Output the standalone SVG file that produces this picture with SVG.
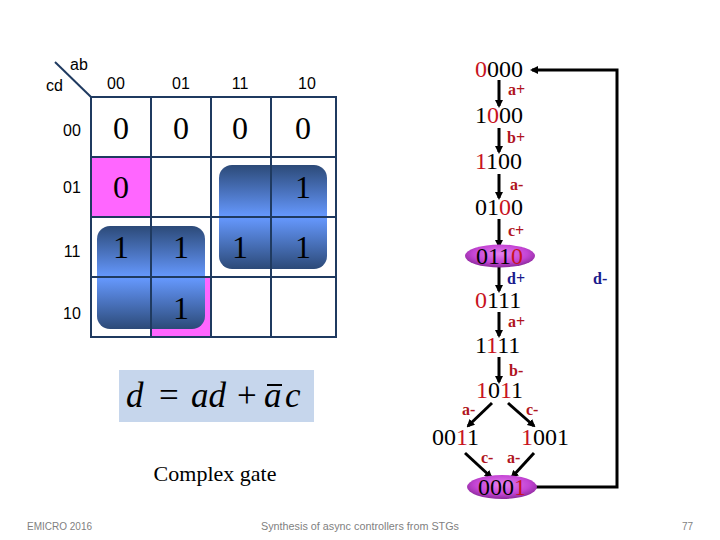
<svg xmlns="http://www.w3.org/2000/svg" width="720" height="540" viewBox="0 0 720 540">
<style>
.hdr{font-family:"Liberation Sans",Arial,sans-serif;font-size:16px;fill:#000}
.num{font-family:"Liberation Serif","Times New Roman",serif;font-size:32px;fill:#000;text-anchor:middle}
.grid{stroke:#1F3A60;stroke-width:2;fill:none}
.st{font-family:"Liberation Serif","Times New Roman",serif;font-size:24px;fill:#000}
.r{fill:#C8141E}
.lbl{font-family:"Liberation Serif","Times New Roman",serif;font-size:16px;font-weight:bold;fill:#B0141E}
.lblb{font-family:"Liberation Serif","Times New Roman",serif;font-size:16px;font-weight:bold;fill:#1A1A8C}
.arr{stroke:#000;stroke-width:3;fill:none}
.foot{font-family:"Liberation Sans",Arial,sans-serif;font-size:10px;fill:#7F7F7F}
</style>
<defs>
<linearGradient id="blue" x1="0" y1="0" x2="0" y2="1">
<stop offset="0" stop-color="#2C4A78"/>
<stop offset="0.5" stop-color="#6699FF"/>
<stop offset="1" stop-color="#2C4A78"/>
</linearGradient>
<radialGradient id="purp" cx="50%" cy="40%" r="60%">
<stop offset="0" stop-color="#E680F0"/>
<stop offset="0.65" stop-color="#C444D4"/>
<stop offset="1" stop-color="#8A2A9A"/>
</radialGradient>
<marker id="ah" markerWidth="8" markerHeight="8" refX="6" refY="4" orient="auto" markerUnits="userSpaceOnUse">
<path d="M0,0 L8,4 L0,8 Z" fill="#000"/>
</marker>
</defs>
<rect width="720" height="540" fill="#fff"/>

<g id="kmap">
<rect x="91" y="157" width="60" height="60" fill="#FF66FF"/>
<rect x="151" y="277" width="60" height="60" fill="#FF66FF"/>
<rect x="97" y="226" width="108" height="103" rx="13" fill="url(#blue)"/>
<rect x="219" y="165" width="108" height="104" rx="13" fill="url(#blue)"/>
<rect class="grid" x="91" y="97" width="245" height="240"/>
<path class="grid" d="M151,97V337M211,97V337M271,97V337M91,157H336M91,217H336M91,277H336"/>
<line class="grid" x1="55" y1="62" x2="91" y2="97"/>
<text class="hdr" x="70" y="70">ab</text>
<text class="hdr" x="46" y="91">cd</text>
<text class="hdr" x="116" y="89" text-anchor="middle">00</text>
<text class="hdr" x="181" y="89" text-anchor="middle">01</text>
<text class="hdr" x="240" y="89" text-anchor="middle">11</text>
<text class="hdr" x="307" y="89" text-anchor="middle">10</text>
<text class="hdr" x="72" y="136" text-anchor="middle">00</text>
<text class="hdr" x="72" y="193" text-anchor="middle">01</text>
<text class="hdr" x="72" y="257" text-anchor="middle">11</text>
<text class="hdr" x="72" y="319" text-anchor="middle">10</text>
<text class="num" x="121" y="139">0</text>
<text class="num" x="181" y="139">0</text>
<text class="num" x="240" y="139">0</text>
<text class="num" x="303" y="139">0</text>
<text class="num" x="121" y="198">0</text>
<text class="num" x="303" y="198">1</text>
<text class="num" x="121" y="258">1</text>
<text class="num" x="181" y="258">1</text>
<text class="num" x="240" y="258">1</text>
<text class="num" x="303" y="258">1</text>
<text class="num" x="181" y="319">1</text>
</g>

<g id="formula">
<rect x="119" y="370" width="195" height="52" fill="#C6D6EC"/>
<g font-family="'Liberation Serif','Times New Roman',serif" font-size="35" fill="#000">
<text x="126" y="407" font-style="italic">d</text>
<text x="159" y="407">=</text>
<text x="191" y="407" font-style="italic">ad</text>
<text x="237" y="407">+</text>
<text x="264" y="407" font-style="italic">a</text>
<text x="285" y="407" font-style="italic">c</text>
</g>
<line x1="267" y1="385" x2="282" y2="385" stroke="#000" stroke-width="2"/>
</g>
<text id="caption" x="215" y="481" text-anchor="middle" font-family="'Liberation Serif','Times New Roman',serif" font-size="22" fill="#000">Complex gate</text>

<g id="connectors">
<line class="arr" x1="499" y1="80" x2="499" y2="106" marker-end="url(#ah)"/>
<line class="arr" x1="499" y1="128" x2="499" y2="152" marker-end="url(#ah)"/>
<line class="arr" x1="499" y1="174" x2="499" y2="198" marker-end="url(#ah)"/>
<line class="arr" x1="499" y1="219" x2="499" y2="246" marker-end="url(#ah)"/>
<line class="arr" x1="499" y1="267" x2="499" y2="291" marker-end="url(#ah)"/>
<line class="arr" x1="499" y1="312" x2="499" y2="336" marker-end="url(#ah)"/>
<line class="arr" x1="499" y1="357" x2="499" y2="382" marker-end="url(#ah)"/>
<line class="arr" x1="492" y1="403" x2="468" y2="426" marker-end="url(#ah)"/>
<line class="arr" x1="508" y1="403" x2="534" y2="426" marker-end="url(#ah)"/>
<line class="arr" x1="465" y1="453" x2="491" y2="477" marker-end="url(#ah)"/>
<line class="arr" x1="534" y1="453" x2="512" y2="477" marker-end="url(#ah)"/>
<polyline class="arr" points="536,487 617,487 617,70 532,70" marker-end="url(#ah)"/>
<text class="lbl" x="508" y="95">a+</text>
<text class="lbl" x="507" y="143">b+</text>
<text class="lbl" x="510" y="190">a-</text>
<text class="lbl" x="508" y="236">c+</text>
<text class="lblb" x="507" y="284">d+</text>
<text class="lblb" x="593" y="284">d-</text>
<text class="lbl" x="508" y="327">a+</text>
<text class="lbl" x="509" y="376">b-</text>
<text class="lbl" x="462" y="415">a-</text>
<text class="lbl" x="526" y="415">c-</text>
<text class="lbl" x="481" y="463">c-</text>
<text class="lbl" x="507" y="463">a-</text>
</g>

<g id="s0000"><text class="st" x="475" y="77"><tspan class="r">0</tspan>000</text></g>
<g id="s1000"><text class="st" x="475" y="123">1<tspan class="r">0</tspan>00</text></g>
<g id="s1100"><text class="st" x="475" y="169"><tspan class="r">1</tspan>100</text></g>
<g id="s0100"><text class="st" x="475" y="215">01<tspan class="r">0</tspan>0</text></g>
<g id="s0110"><ellipse cx="500" cy="256" rx="35" ry="11.5" fill="url(#purp)"/><text class="st" x="476" y="264">011<tspan class="r">0</tspan></text></g>
<g id="s0111"><text class="st" x="475" y="308"><tspan class="r">0</tspan>111</text></g>
<g id="s1111"><text class="st" x="475" y="353">1<tspan class="r">1</tspan>11</text></g>
<g id="s1011"><text class="st" x="476" y="398"><tspan class="r">1</tspan>0<tspan class="r">1</tspan>1</text></g>
<g id="s0011"><text class="st" x="432" y="445">00<tspan class="r">1</tspan>1</text></g>
<g id="s1001"><text class="st" x="521" y="445"><tspan class="r">1</tspan>001</text></g>
<g id="s0001"><ellipse cx="502" cy="487" rx="35" ry="12" fill="url(#purp)"/><text class="st" x="478" y="495">000<tspan class="r">1</tspan></text></g>

<g id="footer">
<text class="foot" x="27" y="530">EMICRO 2016</text>
<text class="foot" x="360" y="530" text-anchor="middle" textLength="198" lengthAdjust="spacingAndGlyphs">Synthesis of async controllers from STGs</text>
<text class="foot" x="693" y="530" text-anchor="end">77</text>
</g>
</svg>
